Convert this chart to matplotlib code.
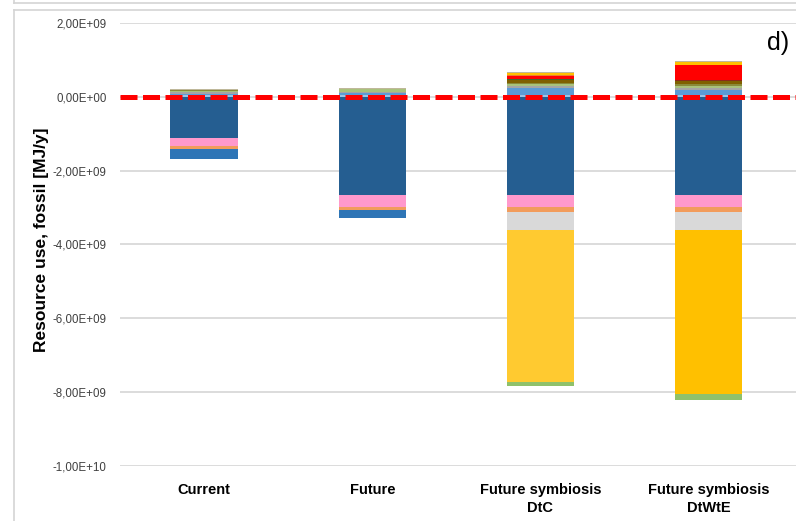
import matplotlib
matplotlib.use("Agg")
import matplotlib.pyplot as plt
from matplotlib.lines import Line2D
from matplotlib.ticker import FuncFormatter, MultipleLocator
import numpy as np

plt.rcParams["font.family"] = ["Liberation Sans", "DejaVu Sans"]

scenarios = ["Current", "Future", "Future symbiosis\nDtC", "Future symbiosis\nDtWtE"]

# savings (negative contributions), stacked downward from zero, in 1e9 MJ/y
neg_dark_blue = [-1.12, -2.66, -2.66, -2.66]
neg_pink = [-0.20, -0.33, -0.32, -0.32]
neg_orange = [-0.09, -0.07, -0.14, -0.14]
neg_blue = [-0.28, -0.21, 0.0, 0.0]
neg_gray = [0.0, 0.0, -0.50, -0.50]
neg_yellow_dtc = [0.0, 0.0, -4.11, 0.0]
neg_yellow_dtwte = [0.0, 0.0, 0.0, -4.44]
neg_green = [0.0, 0.0, -0.11, -0.14]

# burdens (positive contributions), stacked upward from zero, in 1e9 MJ/y
pos_pale_blue = [0.04, 0.04, 0.046, 0.046]
pos_light_blue = [0.04, 0.05, 0.180, 0.144]
pos_gray = [0.04, 0.04, 0.054, 0.054]
pos_light_green = [0.04, 0.07, 0.054, 0.054]
pos_olive = [0.03, 0.0, 0.046, 0.054]
pos_olive_brown = [0.0, 0.0, 0.073, 0.073]
pos_dark_green = [0.0, 0.0, 0.035, 0.0]
pos_dark_red = [0.0, 0.0, 0.0, 0.027]
pos_red = [0.0, 0.0, 0.073, 0.423]
pos_orange = [0.0, 0.0, 0.043, 0.0]
pos_yellow = [0.0, 0.0, 0.038, 0.065]
pos_top_gray = [0.03, 0.035, 0.035, 0.027]

neg_layers = [
    (neg_dark_blue, "#255E91"),
    (neg_pink, "#FF99CC"),
    (neg_orange, "#F29C5C"),
    (neg_blue, "#2E75B6"),
    (neg_gray, "#D9D9D9"),
    (neg_yellow_dtc, "#FFCA30"),
    (neg_yellow_dtwte, "#FFC000"),
    (neg_green, "#8FC16B"),
]
pos_layers = [
    (pos_pale_blue, "#9DC3E6"),
    (pos_light_blue, "#5B9BD5"),
    (pos_gray, "#A5A5A5"),
    (pos_light_green, "#A9C27C"),
    (pos_olive, "#8A8A3A"),
    (pos_olive_brown, "#806000"),
    (pos_dark_green, "#43682B"),
    (pos_dark_red, "#8B2A1A"),
    (pos_red, "#FF0000"),
    (pos_orange, "#ED7D31"),
    (pos_yellow, "#FFC000"),
    (pos_top_gray, "#BFB89A"),
]

fig = plt.figure(figsize=(7.96, 5.21), dpi=100)
ax = fig.add_axes([0.1508, 0.1056, 0.8492, 0.8503])

x = np.arange(len(scenarios))
width = 0.4

bottom = np.zeros(len(x))
for vals, color in neg_layers:
    v = np.array(vals) * 1e9
    ax.bar(x, v, width, bottom=bottom, color=color, linewidth=0, zorder=2)
    bottom += v

bottom = np.zeros(len(x))
for vals, color in pos_layers:
    v = np.array(vals) * 1e9
    ax.bar(x, v, width, bottom=bottom, color=color, linewidth=0, zorder=2)
    bottom += v

ax.axhline(0, color="#FF0000", lw=3.6, dashes=(3.4, 1.1), zorder=3)

ax.set_xlim(-0.5, 3.52)
ax.set_ylim(-1e10, 2e9)
ax.yaxis.set_major_locator(MultipleLocator(2e9))
ax.yaxis.set_major_formatter(FuncFormatter(lambda v, p: f"{v:.2E}".replace(".", ",")))
ax.grid(axis="y", color="#D9D9D9", lw=1.3, zorder=0)
ax.set_axisbelow(True)
for s in ax.spines.values():
    s.set_visible(False)

ax.set_xticks(x)
ax.set_xticklabels(scenarios, fontweight="bold", fontsize=10.5, linespacing=1.35)
ax.tick_params(axis="x", length=0, pad=12.5)
ax.tick_params(axis="y", length=0, pad=9.5, labelsize=8.3, labelcolor="#404040")

fig.text(42 / 796, 1 - 240 / 521, "Resource use, fossil [MJ/y]", rotation=90,
         ha="center", va="center", fontsize=12.5, fontweight="bold")
fig.text(767 / 796, 1 - 43 / 521, "d)", ha="left", va="center", fontsize=18)

# chart frame borders
border = "#D4D4D4"
fig.add_artist(Line2D([14 / 796, 1], [1 - 10 / 521] * 2, color=border, lw=1.2))
fig.add_artist(Line2D([14 / 796] * 2, [0, 1 - 10 / 521], color=border, lw=1.2))
fig.add_artist(Line2D([14 / 796, 1], [1 - 3 / 521] * 2, color=border, lw=1.2))
fig.add_artist(Line2D([14 / 796] * 2, [1 - 3 / 521, 1], color=border, lw=1.2))

fig.savefig("out.png", dpi=100)
